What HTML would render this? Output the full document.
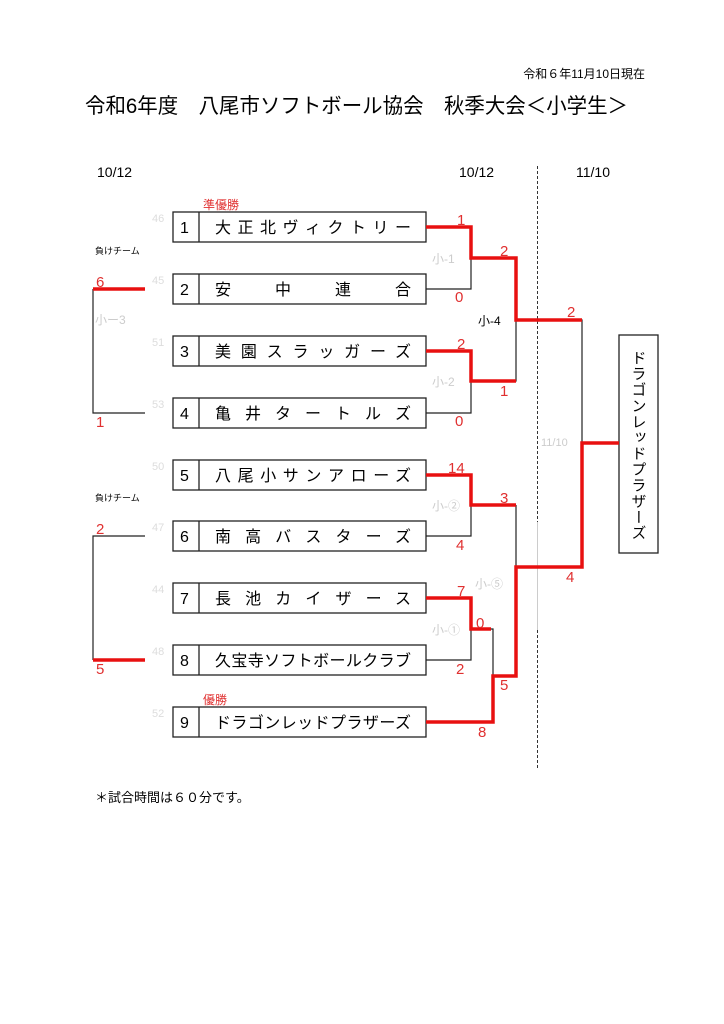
<!DOCTYPE html>
<html><head><meta charset="utf-8"><style>
html,body{margin:0;padding:0;background:#fff;}
svg{display:block;font-family:"Liberation Sans","Noto Sans CJK JP",sans-serif;}
</style></head><body>
<svg width="724" height="1024" viewBox="0 0 724 1024" xmlns="http://www.w3.org/2000/svg">
<text x="645" y="78" font-size="12" text-anchor="end" fill="#000">令和６年11月10日現在</text>
<text x="85" y="113" font-size="21" fill="#000" textLength="543" lengthAdjust="spacingAndGlyphs">令和6年度　八尾市ソフトボール協会　秋季大会＜小学生＞</text>
<text x="97" y="177" font-size="14" fill="#000">10/12</text>
<text x="459" y="177" font-size="14" fill="#000">10/12</text>
<text x="576" y="177" font-size="14" fill="#000">11/10</text>
<!-- divider -->
<line x1="537.5" y1="166" x2="537.5" y2="522" stroke="#333" stroke-width="1" stroke-dasharray="3,2"/>
<line x1="537.5" y1="522" x2="537.5" y2="630" stroke="#ccc" stroke-width="1"/>
<line x1="537.5" y1="630" x2="537.5" y2="770" stroke="#333" stroke-width="1" stroke-dasharray="3,2"/>
<!-- boxes -->
<g stroke="#222" stroke-width="1.3" fill="#fff">
<rect x="173" y="212" width="253" height="30"/><line x1="199" y1="212" x2="199" y2="242"/>
<rect x="173" y="274" width="253" height="30"/><line x1="199" y1="274" x2="199" y2="304"/>
<rect x="173" y="336" width="253" height="30"/><line x1="199" y1="336" x2="199" y2="366"/>
<rect x="173" y="398" width="253" height="30"/><line x1="199" y1="398" x2="199" y2="428"/>
<rect x="173" y="460" width="253" height="30"/><line x1="199" y1="460" x2="199" y2="490"/>
<rect x="173" y="521" width="253" height="30"/><line x1="199" y1="521" x2="199" y2="551"/>
<rect x="173" y="583" width="253" height="30"/><line x1="199" y1="583" x2="199" y2="613"/>
<rect x="173" y="645" width="253" height="30"/><line x1="199" y1="645" x2="199" y2="675"/>
<rect x="173" y="707" width="253" height="30"/><line x1="199" y1="707" x2="199" y2="737"/>
<rect x="619" y="335" width="39" height="218"/>
</g>
<g font-size="16" fill="#000">
<text x="180" y="233">1</text><text x="180" y="295">2</text><text x="180" y="357">3</text>
<text x="180" y="419">4</text><text x="180" y="481">5</text><text x="180" y="542">6</text>
<text x="180" y="604">7</text><text x="180" y="666">8</text><text x="180" y="728">9</text>
</g>
<g font-size="16" fill="#000">
<text x="215" y="233" textLength="196" lengthAdjust="spacing">大正北ヴィクトリー</text>
<text x="215" y="295" textLength="196" lengthAdjust="spacing">安中連合</text>
<text x="215" y="357" textLength="196" lengthAdjust="spacing">美園スラッガーズ</text>
<text x="215" y="419" textLength="196" lengthAdjust="spacing">亀井タートルズ</text>
<text x="215" y="481" textLength="196" lengthAdjust="spacing">八尾小サンアローズ</text>
<text x="215" y="542" textLength="196" lengthAdjust="spacing">南高バスターズ</text>
<text x="215" y="604" textLength="196" lengthAdjust="spacing">長池カイザース</text>
<text x="215" y="666" textLength="196" lengthAdjust="spacing">久宝寺ソフトボールクラブ</text>
<text x="215" y="728" textLength="196" lengthAdjust="spacing">ドラゴンレッドプラザーズ</text>
</g>
<text x="638" y="350" font-size="15" fill="#000" writing-mode="tb" glyph-orientation-vertical="0" style="writing-mode:vertical-rl" textLength="190" lengthAdjust="spacing">ドラゴンレッドプラザーズ</text>
<!-- seeds gray -->
<g font-size="11" fill="#ddd">
<text x="152" y="222">46</text><text x="152" y="284">45</text><text x="152" y="346">51</text>
<text x="152" y="408">53</text><text x="152" y="470">50</text><text x="152" y="531">47</text>
<text x="152" y="593">44</text><text x="152" y="655">48</text><text x="152" y="717">52</text>
</g>
<g font-size="12" fill="#e03030">
<text x="203" y="209">準優勝</text><text x="203" y="704">優勝</text>
</g>
<g font-size="9" fill="#000"><text x="95" y="254">負けチーム</text><text x="95" y="501">負けチーム</text></g>
<!-- black lines -->
<g stroke="#222" stroke-width="1.2" fill="none">
<polyline points="426,289 471,289 471,258"/>
<polyline points="426,413 471,413 471,381"/>
<polyline points="471,381 516,381 516,320"/>
<polyline points="516,320 582,320 582,443"/>
<polyline points="426,536 471,536 471,505"/>
<polyline points="426,660 471,660 471,629"/>
<polyline points="471,629 493,629 493,676"/>
<polyline points="516,505 516,567"/>
<polyline points="145,413 93,413 93,289"/>
<polyline points="145,536 93,536 93,660"/>
</g>
<!-- red lines -->
<g stroke="#e81010" stroke-width="3.5" fill="none" stroke-linejoin="miter">
<polyline points="426,227 471,227 471,258 516,258 516,320 540,320"/>
<polyline points="426,351 471,351 471,381 516,381"/>
<polyline points="426,475 471,475 471,505 516,505"/>
<polyline points="426,598 471,598 471,629 491,629"/>
<polyline points="426,722 493,722 493,676 516,676 516,567 582,567 582,443 619,443"/>
<line x1="540" y1="320" x2="582" y2="320"/>
<line x1="93" y1="289" x2="145" y2="289"/>
<line x1="93" y1="660" x2="145" y2="660"/>
</g>
<!-- scores -->
<g font-size="15" fill="#e03030">
<text x="457" y="225">1</text><text x="455" y="302">0</text>
<text x="500" y="256">2</text><text x="457" y="349">2</text><text x="500" y="396">1</text>
<text x="455" y="426">0</text><text x="567" y="317">2</text>
<text x="448" y="473">14</text><text x="500" y="503">3</text><text x="456" y="550">4</text>
<text x="457" y="596">7</text><text x="476" y="628">0</text><text x="456" y="674">2</text>
<text x="500" y="690">5</text><text x="478" y="737">8</text><text x="566" y="582">4</text>
<text x="96" y="287">6</text><text x="96" y="427">1</text>
<text x="96" y="534">2</text><text x="96" y="674">5</text>
</g>
<g font-size="12" fill="#ccc">
<text x="432" y="263">小-1</text><text x="432" y="386">小-2</text>
<text x="432" y="510">小-②</text><text x="475" y="588">小-⑤</text>
<text x="432" y="634">小-①</text><text x="95" y="324">小ー3</text>
<text x="541" y="446" font-size="11">11/10</text>
</g>
<text x="478" y="325" font-size="12" fill="#000">小-4</text>
<text x="95" y="802" font-size="13" fill="#000">＊試合時間は６０分です。</text>
</svg>
</body></html>
